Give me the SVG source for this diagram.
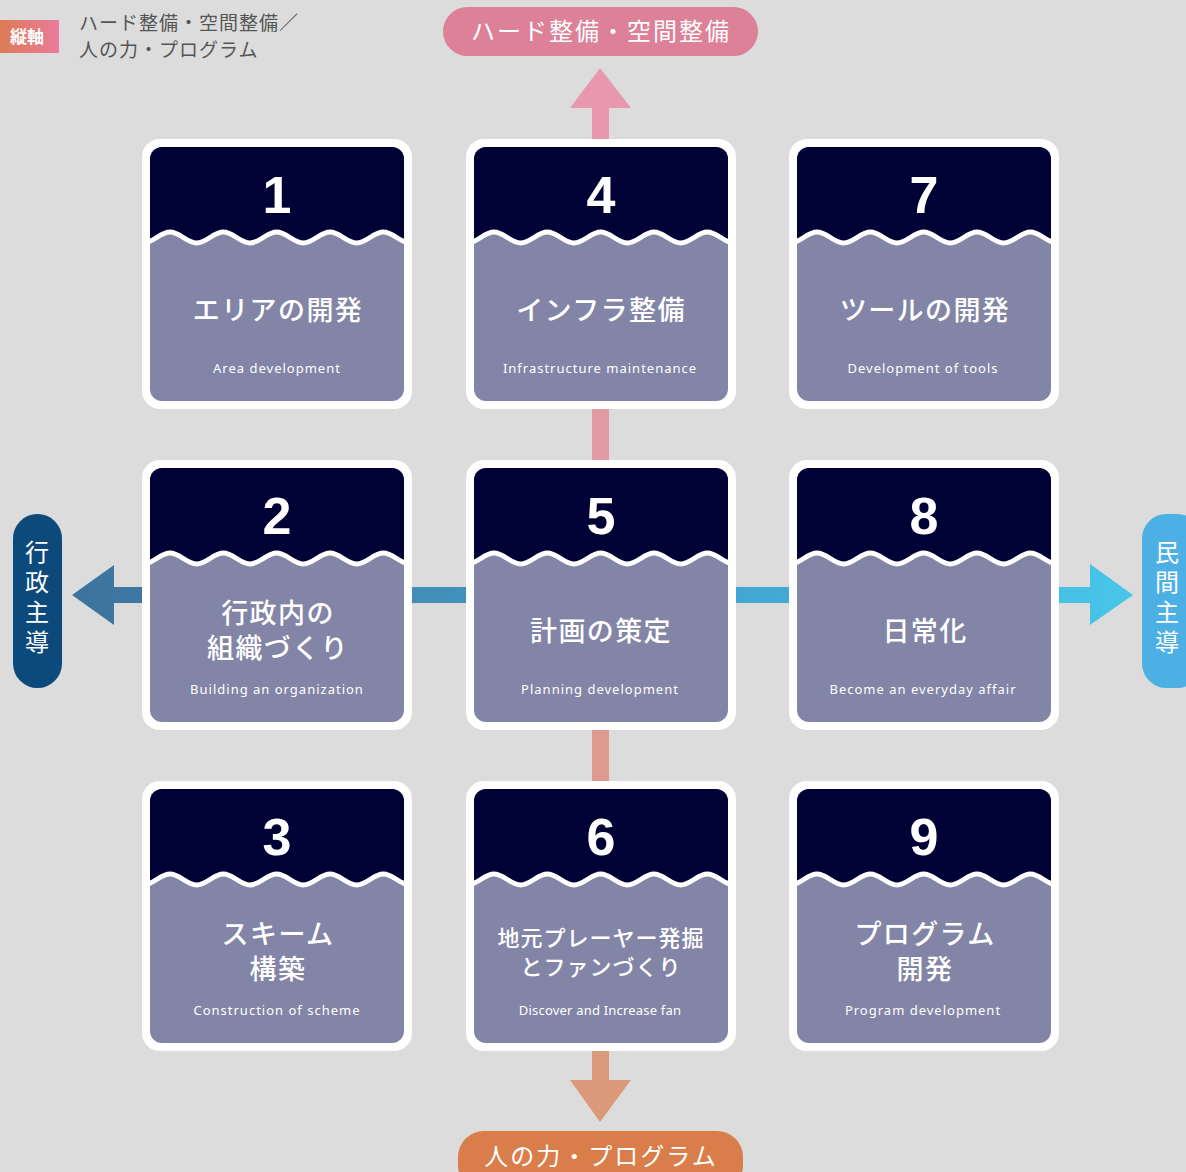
<svg xmlns="http://www.w3.org/2000/svg" width="1186" height="1172" viewBox="0 0 1186 1172">
<style>
.num{font-family:"Liberation Sans",Arial,sans-serif;font-weight:700;font-size:52px;fill:#fff;text-anchor:middle}
.ttl{font-family:"Noto Sans CJK JP","Noto Sans",sans-serif;font-weight:500;font-size:27px;fill:#fff;text-anchor:middle;letter-spacing:1.4px}
.ttl2{font-family:"Liberation Sans","Noto Sans CJK JP",sans-serif;font-weight:500;font-size:27px;fill:#fff;text-anchor:middle;letter-spacing:1.4px}
.ttl6{font-family:"Noto Sans CJK JP","Noto Sans",sans-serif;font-weight:500;font-size:22px;fill:#fff;text-anchor:middle;letter-spacing:1px}
.sub{font-family:"Noto Sans","Open Sans",sans-serif;font-size:13px;fill:#fff;text-anchor:middle;letter-spacing:1px}
.sub6{font-family:"Noto Sans","Open Sans",sans-serif;font-size:13px;fill:#fff;text-anchor:middle;letter-spacing:0.2px}
.pill{font-family:"Noto Sans CJK JP",sans-serif;font-size:24px;fill:#fff;text-anchor:middle;letter-spacing:2px}
.vt{font-family:"Noto Sans CJK JP",sans-serif;font-size:24px;fill:#fff;text-anchor:middle;writing-mode:vertical-rl;letter-spacing:6px}
.legend{font-family:"Noto Sans CJK JP",sans-serif;font-size:19px;fill:#555;letter-spacing:1px}
.outer{fill:#fff}
.inner{fill:#8285a6}
.dark{fill:#000236}
.wave{fill:none;stroke:#fff;stroke-width:5}
</style>
<defs>
<clipPath id="innerClip"><rect x="8" y="8" width="254" height="254" rx="12"/></clipPath>
<linearGradient id="vgrad" gradientUnits="userSpaceOnUse" x1="0" y1="68" x2="0" y2="1122">
<stop offset="0" stop-color="#e898b0"/>
<stop offset="0.35" stop-color="#e29aa4"/>
<stop offset="0.65" stop-color="#dd9a8e"/>
<stop offset="1" stop-color="#da9a78"/>
</linearGradient>
<linearGradient id="hgrad" gradientUnits="userSpaceOnUse" x1="72" y1="0" x2="1133" y2="0">
<stop offset="0" stop-color="#3d739d"/>
<stop offset="0.35" stop-color="#4290ba"/>
<stop offset="0.65" stop-color="#42a8d4"/>
<stop offset="1" stop-color="#48c6ea"/>
</linearGradient>
<linearGradient id="lgGrad" x1="0" y1="0" x2="1" y2="0">
<stop offset="0" stop-color="#dc7c55"/>
<stop offset="1" stop-color="#ea7b9c"/>
</linearGradient>
<g id="cardBase">
<rect class="outer" x="0" y="0" width="270" height="270" rx="18"/>
<rect class="inner" x="8" y="8" width="254" height="254" rx="12"/>
<g clip-path="url(#innerClip)">
<path class="dark" d="M -2 104 L 1.33 104 C 10.93 104 18.4 93 28 93 S 45.07 104 54.67 104 S 71.73 93 81.33 93 S 98.4 104 108 104 S 125.07 93 134.67 93 S 151.73 104 161.33 104 S 178.4 93 188 93 S 205.07 104 214.67 104 S 231.73 93 241.33 93 S 258.4 104 268 104 L 272 104 L 272 -2 L -2 -2 Z"/>
<path class="wave" d="M -2 104 L 1.33 104 C 10.93 104 18.4 93 28 93 S 45.07 104 54.67 104 S 71.73 93 81.33 93 S 98.4 104 108 104 S 125.07 93 134.67 93 S 151.73 104 161.33 104 S 178.4 93 188 93 S 205.07 104 214.67 104 S 231.73 93 241.33 93 S 258.4 104 268 104 L 272 104"/>
</g>
</g>
</defs>
<rect x="0" y="0" width="1186" height="1172" fill="#dcdcdc"/>

<g id="legend">
<rect x="0" y="20" width="59" height="33" fill="url(#lgGrad)"/>
<text x="27" y="43" font-family="Noto Sans CJK JP,sans-serif" font-weight="700" font-size="17" fill="#fff" text-anchor="middle">縦軸</text>
<text class="legend" x="79" y="30">ハード整備・空間整備／<tspan x="79" dy="27">人の力・プログラム</tspan></text>
</g>

<g id="connectors">
<path fill="url(#vgrad)" d="M600 68 L631 108 L609 108 L609 139 L592 139 L592 108 L570 108 Z"/>
<rect x="592" y="405" width="17" height="60" fill="url(#vgrad)"/>
<rect x="592" y="726" width="17" height="60" fill="url(#vgrad)"/>
<path fill="url(#vgrad)" d="M592 1051 L609 1051 L609 1080 L631 1080 L600 1122 L570 1080 L592 1080 Z"/>
<path fill="url(#hgrad)" d="M72 595 L114 565 L114 587 L146 587 L146 603 L114 603 L114 625 Z"/>
<rect x="408" y="587" width="62" height="16" fill="url(#hgrad)"/>
<rect x="732" y="587" width="61" height="16" fill="url(#hgrad)"/>
<path fill="url(#hgrad)" d="M1055 587 L1090 587 L1090 564 L1133 595 L1090 625 L1090 603 L1055 603 Z"/>
</g>

<g id="top-label">
<rect x="443" y="7" width="315" height="49" rx="24.5" fill="#dc8198"/>
<text class="pill" x="601" y="40">ハード整備・空間整備</text>
</g>
<g id="bottom-label">
<rect x="458" y="1131" width="285" height="60" rx="26" fill="#d97d4b"/>
<text class="pill" x="601" y="1165">人の力・プログラム</text>
</g>
<g id="left-label">
<rect x="13" y="514" width="49" height="174" rx="24.5" fill="#0c4a7c"/>
<text class="vt" x="37" y="600">行政主導</text>
</g>
<g id="right-label">
<rect x="1142" y="514" width="60" height="174" rx="24.5" fill="#4db0e5"/>
<text class="vt" x="1167" y="600">民間主導</text>
</g>

<g id="card1" transform="translate(142,139)">
<use href="#cardBase"/>
<text class="num" x="135" y="74">1</text>
<text class="ttl" x="136" y="181">エリアの開発</text>
<text class="sub" x="135" y="234">Area development</text>
</g>
<g id="card2" transform="translate(142,460)">
<use href="#cardBase"/>
<text class="num" x="135" y="74">2</text>
<text class="ttl2" x="136" y="163">行政内の<tspan x="136" dy="35">組織づくり</tspan></text>
<text class="sub" x="135" y="234">Building an organization</text>
</g>
<g id="card3" transform="translate(142,781)">
<use href="#cardBase"/>
<text class="num" x="135" y="74">3</text>
<text class="ttl2" x="136" y="163">スキーム<tspan x="136" dy="35">構築</tspan></text>
<text class="sub" x="135" y="234">Construction of scheme</text>
</g>
<g id="card4" transform="translate(466,139)">
<use href="#cardBase"/>
<text class="num" x="135" y="74">4</text>
<text class="ttl" x="135" y="181">インフラ整備</text>
<text class="sub" x="134" y="234">Infrastructure maintenance</text>
</g>
<g id="card5" transform="translate(466,460)">
<use href="#cardBase"/>
<text class="num" x="135" y="74">5</text>
<text class="ttl" x="135" y="181">計画の策定</text>
<text class="sub" x="134" y="234">Planning development</text>
</g>
<g id="card6" transform="translate(466,781)">
<use href="#cardBase"/>
<text class="num" x="135" y="74">6</text>
<text class="ttl6" x="135" y="165">地元プレーヤー発掘<tspan x="135" dy="29">とファンづくり</tspan></text>
<text class="sub6" x="134" y="234">Discover and Increase fan</text>
</g>
<g id="card7" transform="translate(789,139)">
<use href="#cardBase"/>
<text class="num" x="135" y="74">7</text>
<text class="ttl" x="136" y="181">ツールの開発</text>
<text class="sub" x="134" y="234">Development of tools</text>
</g>
<g id="card8" transform="translate(789,460)">
<use href="#cardBase"/>
<text class="num" x="135" y="74">8</text>
<text class="ttl" x="136" y="181">日常化</text>
<text class="sub" x="134" y="234">Become an everyday affair</text>
</g>
<g id="card9" transform="translate(789,781)">
<use href="#cardBase"/>
<text class="num" x="135" y="74">9</text>
<text class="ttl2" x="136" y="163">プログラム<tspan x="136" dy="35">開発</tspan></text>
<text class="sub" x="134" y="234">Program development</text>
</g>
</svg>
